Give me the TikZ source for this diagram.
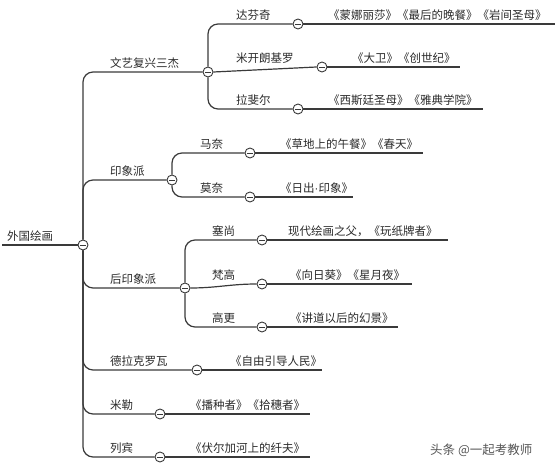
\documentclass[tikz,border=0pt]{standalone}
\usepackage{fontspec}
\setmainfont{Noto Sans CJK SC}
\newfontfamily\latinfont{Liberation Sans}
\definecolor{lc}{HTML}{3A3A3A}
\definecolor{tc}{HTML}{2A2A2A}
\definecolor{wm}{HTML}{555555}
\begin{document}
\begin{tikzpicture}[x=1pt,y=-1pt,
  tog/.style={circle, draw=lc, fill=white, line width=0.9pt, minimum size=10pt, inner sep=0pt,
    path picture={\draw[lc, line width=0.9pt] ([xshift=-2.8pt]path picture bounding box.center) -- ([xshift=2.8pt]path picture bounding box.center);}},
  conn/.style={draw=lc, line width=1.2pt, rounded corners=10pt},
  lbl/.style={anchor=south west, inner sep=0pt, font=\fontsize{11.5}{12}\selectfont, text=tc}]
\useasboundingbox (0,0) rectangle (558,470);
% toggles
\node[tog] (r) at (83,245) {};
\node[tog] (a) at (208,72) {};
\node[tog] (a1) at (298,24) {};
\node[tog] (a2) at (322,67) {};
\node[tog] (a3) at (298,109) {};
\node[tog] (b) at (172,180) {};
\node[tog] (b1) at (250,153) {};
\node[tog] (b2) at (250,197) {};
\node[tog] (c) at (185,288) {};
\node[tog] (c1) at (262,240) {};
\node[tog] (c2) at (262,284) {};
\node[tog] (c3) at (262,327) {};
\node[tog] (d) at (197,370) {};
\node[tog] (e) at (160,414) {};
\node[tog] (f) at (160,457) {};
% leaf ends
\coordinate (r0) at (2,245);
\coordinate (a1e) at (555,24);
\coordinate (a2e) at (460,67);
\coordinate (a3e) at (483,109);
\coordinate (b1e) at (423,153);
\coordinate (b2e) at (353,197);
\coordinate (c1e) at (448,240);
\coordinate (c2e) at (412,284);
\coordinate (c3e) at (398,327);
\coordinate (de) at (322,370);
\coordinate (ee) at (310,414);
\coordinate (fe) at (310,457);
% connectors
\draw[conn] (r0) -- (r.west);
\draw[conn] (r.north) |- (a.west);
\draw[conn] (r.north) |- (b.west);
\draw[conn] (r.south) |- (c.west);
\draw[conn] (r.south) |- (d.west);
\draw[conn] (r.south) |- (e.west);
\draw[conn] (r.south) |- (f.west);
\draw[conn] (a.north) |- (a1.west);
\draw[conn] (a.east) -- (a2.west);
\draw[conn] (a.south) |- (a3.west);
\draw[conn] (b.north) |- (b1.west);
\draw[conn] (b.south) |- (b2.west);
\draw[conn] (c.north) |- (c1.west);
\draw[conn] (c.east) to[out=0,in=180] (c2.west);
\draw[conn] (c.south) |- (c3.west);
\foreach \n in {a1,a2,a3,b1,b2,c1,c2,c3,d,e,f} \draw[conn] (\n.east) -- (\n e);
% labels
\node[lbl] (lr) at (7,242) {外国绘画};
\node[lbl] (la) at (110,69) {文艺复兴三杰};
\node[lbl] (la1) at (236,21) {达芬奇};
\node[lbl] (la2) at (236,64) {米开朗基罗};
\node[lbl] (la3) at (236,106) {拉斐尔};
\node[lbl] (ta1) at (328,21) {《蒙娜丽莎》《最后的晚餐》《岩间圣母》};
\node[lbl] (ta2) at (352,64) {《大卫》《创世纪》};
\node[lbl] (ta3) at (328,106) {《西斯廷圣母》《雅典学院》};
\node[lbl] (lb) at (110,177) {印象派};
\node[lbl] (lb1) at (200,150) {马奈};
\node[lbl] (lb2) at (200,194) {莫奈};
\node[lbl] (tb1) at (280,150) {《草地上的午餐》《春天》};
\node[lbl] (tb2) at (280,194) {《日出{\latinfont ·}印象》};
\node[lbl] (lc) at (110,285) {后印象派};
\node[lbl] (lc1) at (212,237) {塞尚};
\node[lbl] (lc2) at (212,281) {梵高};
\node[lbl] (lc3) at (212,324) {高更};
\node[lbl] (tc1) at (288,237) {现代绘画之父，《玩纸牌者》};
\node[lbl] (tc2) at (290,281) {《向日葵》《星月夜》};
\node[lbl] (tc3) at (290,324) {《讲道以后的幻景》};
\node[lbl] (ld) at (110,367) {德拉克罗瓦};
\node[lbl] (td) at (230,367) {《自由引导人民》};
\node[lbl] (le) at (110,411) {米勒};
\node[lbl] (te) at (190,411) {《播种者》《拾穗者》};
\node[lbl] (lf) at (110,454) {列宾};
\node[lbl] (tf) at (190,454) {《伏尔加河上的纤夫》};
\node[anchor=west, inner sep=0pt, font=\fontsize{12.5}{13}\selectfont, text=wm] (wmk) at (430,450) {头条 @一起考教师};
\end{tikzpicture}
\end{document}
